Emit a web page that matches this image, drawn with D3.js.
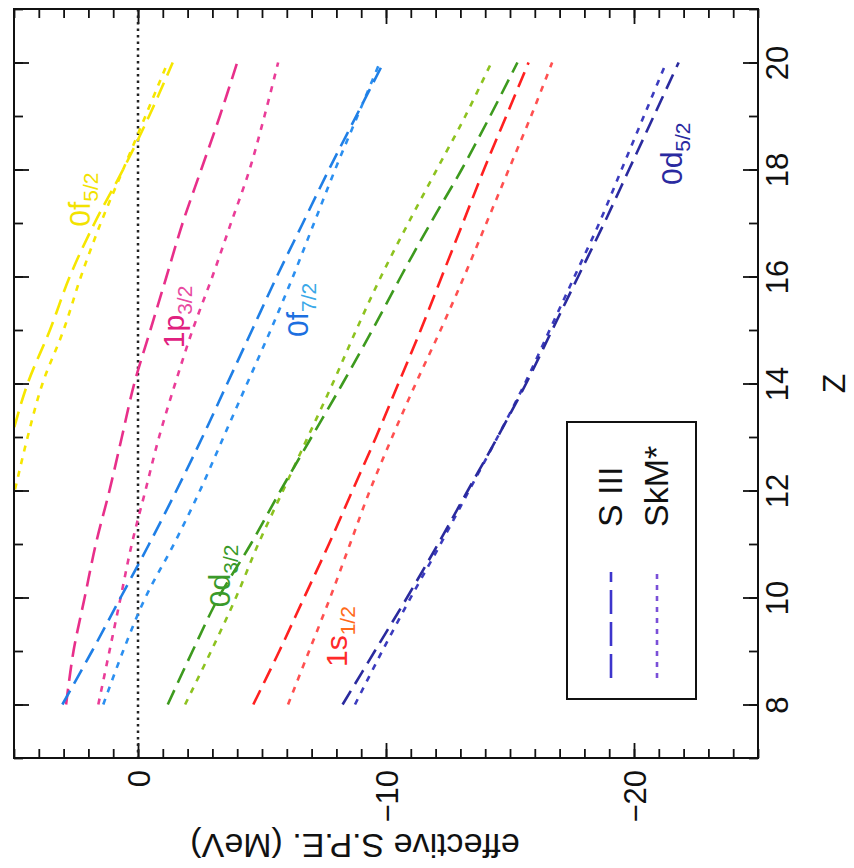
<!DOCTYPE html>
<html>
<head>
<meta charset="utf-8">
<script src="https://cdn.jsdelivr.net/npm/d3@7"></script>
<style>
body { margin: 0; background: #fff; }
text { font-family: "Liberation Sans", Arial, Helvetica, sans-serif; }
</style>
</head>
<body>
<div id="chart"></div>
<script>
// proton number Z of the isotones
var zValues = [8, 9, 10, 11, 12, 13, 14, 15, 16, 17, 18, 19, 20];

// effective single-particle energies (MeV), S III force
var sIII_0f52 = [8.1, 7.5, 6.9, 6.3, 5.7, 5.1, 4.45, 3.55, 2.75, 1.75, 0.6, -0.45, -1.4];
var sIII_1p32 = [2.9, 2.6, 2.15, 1.7, 1.15, 0.65, 0.15, -0.5, -1.15, -1.8, -2.55, -3.3, -4.0];
var sIII_0f72 = [3.05, 1.85, 0.7, -0.45, -1.55, -2.6, -3.6, -4.6, -5.6, -6.65, -7.7, -8.8, -9.9];
var sIII_0d32 = [-1.2, -2.2, -3.25, -4.55, -5.75, -7.0, -8.25, -9.45, -10.6, -11.8, -13.05, -14.2, -15.3];
var sIII_1s12 = [-4.65, -5.7, -6.7, -7.7, -8.65, -9.6, -10.5, -11.4, -12.25, -13.1, -13.95, -14.85, -15.75];
var sIII_0d52 = [-8.25, -9.55, -10.85, -12.1, -13.3, -14.5, -15.65, -16.7, -17.75, -18.8, -19.8, -20.8, -21.8];

// effective single-particle energies (MeV), SkM* force
var skm_0f52 = [7.0, 6.5, 6.0, 5.5, 4.97, 4.45, 3.85, 3.0, 2.3, 1.5, 0.6, -0.3, -1.2];
var skm_1p32 = [1.6, 1.15, 0.7, 0.25, -0.3, -0.85, -1.5, -2.2, -3.0, -3.75, -4.5, -5.1, -5.65];
var skm_0f72 = [1.4, 0.6, -0.3, -1.45, -2.5, -3.45, -4.4, -5.35, -6.25, -7.1, -7.95, -8.85, -9.75];
var skm_0d32 = [-1.9, -2.95, -3.95, -4.85, -5.85, -6.85, -7.85, -8.8, -9.8, -10.9, -12.05, -13.2, -14.25];
var skm_1s12 = [-6.05, -6.9, -7.75, -8.55, -9.35, -10.25, -11.2, -12.2, -13.15, -14.05, -14.95, -15.85, -16.7];
var skm_0d52 = [-8.75, -9.85, -11.0, -12.2, -13.35, -14.5, -15.6, -16.6, -17.6, -18.6, -19.5, -20.4, -21.3];

// orbitals: main part and subscript of the label
var orbitals = ["0f5/2", "1p3/2", "0f7/2", "0d3/2", "1s1/2", "0d5/2"];
var orbitalMain = ["0f", "1p", "0f", "0d", "1s", "0d"];
var orbitalSub = ["5/2", "3/2", "7/2", "3/2", "1/2", "5/2"];
var forces = ["S III", "SkM*"];

// tick values
var zMajor = [8, 10, 12, 14, 16, 18, 20];
var zMinor = d3.range(7, 22, 1);
var eMajor = [0, -10, -20];
var eMinor = d3.range(-25, 6, 1);

var sIIIvals = [sIII_0f52, sIII_1p32, sIII_0f72, sIII_0d32, sIII_1s12, sIII_0d52];
var skmVals = [skm_0f52, skm_1p32, skm_0f72, skm_0d32, skm_1s12, skm_0d52];

// styles
var colSIII = ["#f6e600", "#e82f8a", "#1f7fe6", "#3d9a1e", "#ff2020", "#2a2a9e"];
var colSkM = ["#f6e600", "#ea3d98", "#2b8ff0", "#8dc21f", "#ff5050", "#3b3bbe"];
var colMain = ["#f2e200", "#e0207f", "#1c6fe0", "#3a9a2a", "#ff2a2a", "#2a2aa0"];
var colSub = ["#f2e200", "#e84aa0", "#3aa8e8", "#3a9a2a", "#ff6a1a", "#2a2aa0"];
// label anchor (E, Z) of the start of the rotated text
var labelAt = [[1.94, 16.93], [-1.85, 14.66], [-6.85, 14.87], [-3.71, 9.82], [-8.43, 8.7], [-21.94, 17.71]];

var W = 854, H = 868;
var frame = {left: 14, right: 758, top: 9, bottom: 758};

var svg = d3.select("#chart").append("svg")
    .attr("width", W)
    .attr("height", H);

var eScale = d3.scaleLinear().domain([5, -25]).range([frame.left, frame.right]);
var zScale = d3.scaleLinear().domain([7, 21]).range([frame.bottom, frame.top]);

svg.append("defs").append("clipPath")
    .attr("id", "plot")
    .append("rect")
    .attr("x", frame.left)
    .attr("y", frame.top)
    .attr("width", frame.right - frame.left)
    .attr("height", frame.bottom - frame.top);

// ticks (all inside the frame)
function ticks(axis, tx, ty, vals, size) {
    var g = svg.append("g")
        .attr("transform", "translate(" + tx + "," + ty + ")")
        .call(axis.tickValues(vals).tickSize(-size).tickSizeOuter(0));
    g.select(".domain").remove();
    g.selectAll("line").attr("stroke", "#111").attr("stroke-width", 1.8);
    return g;
}

ticks(d3.axisBottom(eScale).tickFormat(""), 0, frame.bottom, eMinor, 9);
ticks(d3.axisTop(eScale).tickFormat(""), 0, frame.top, eMinor, 9);
ticks(d3.axisTop(eScale).tickFormat(""), 0, frame.top, eMajor, 15);
ticks(d3.axisLeft(zScale).tickFormat(""), frame.left, 0, zMinor, 9);
ticks(d3.axisRight(zScale).tickFormat(""), frame.right, 0, zMinor, 9);
ticks(d3.axisLeft(zScale).tickFormat(""), frame.left, 0, zMajor, 15);

var bottomAxis = ticks(d3.axisBottom(eScale).tickFormat(d3.format("d")), 0, frame.bottom, eMajor, 15);
bottomAxis.attr("font-size", 31);
bottomAxis.selectAll("text")
    .attr("x", 0).attr("y", 0).attr("dy", 0)
    .attr("fill", "#111")
    .attr("text-anchor", "end")
    .attr("transform", "translate(11,12) rotate(-90)");

var rightAxis = ticks(d3.axisRight(zScale).tickFormat(d3.format("d")), frame.right, 0, zMajor, 15);
rightAxis.attr("font-size", 31);
rightAxis.selectAll("text")
    .attr("x", 0).attr("y", 0).attr("dy", 0)
    .attr("fill", "#111")
    .attr("text-anchor", "middle")
    .attr("transform", "translate(30,0) rotate(-90)");

// axis titles
svg.append("text")
    .attr("transform", "translate(355,834) rotate(180)")
    .attr("text-anchor", "middle")
    .attr("font-size", 34)
    .attr("fill", "#111")
    .text("effective S.P.E. (MeV)");

svg.append("text")
    .attr("transform", "translate(845," + zScale(14) + ") rotate(-90)")
    .attr("text-anchor", "middle")
    .attr("font-size", 32)
    .attr("fill", "#111")
    .text("Z");

// zero line
svg.append("line")
    .attr("x1", eScale(0)).attr("x2", eScale(0))
    .attr("y1", frame.top).attr("y2", frame.bottom)
    .attr("stroke", "#222")
    .attr("stroke-width", 2.5)
    .attr("stroke-dasharray", "2.5,4");

// curves
var line = d3.line()
    .x(function(d) { return eScale(d.e); })
    .y(function(d) { return zScale(d.z); })
    .curve(d3.curveCatmullRom);

var curves = svg.append("g").attr("clip-path", "url(#plot)");

orbitals.forEach(function(o, i) {
    var a = zValues.map(function(z, k) { return {z: z, e: sIIIvals[i][k]}; });
    var b = zValues.map(function(z, k) { return {z: z, e: skmVals[i][k]}; });
    curves.append("path")
        .attr("d", line(b))
        .attr("fill", "none")
        .attr("stroke", colSkM[i])
        .attr("stroke-width", 2.6)
        .attr("stroke-dasharray", "6,7");
    curves.append("path")
        .attr("d", line(a))
        .attr("fill", "none")
        .attr("stroke", colSIII[i])
        .attr("stroke-width", 2.6)
        .attr("stroke-dasharray", "16,8");
});

// orbital labels
orbitals.forEach(function(o, i) {
    var t = svg.append("text")
        .attr("transform", "translate(" + eScale(labelAt[i][0]) + "," + zScale(labelAt[i][1]) + ") rotate(-90)")
        .attr("font-size", 30)
        .attr("fill", colMain[i])
        .text(orbitalMain[i]);
    t.append("tspan")
        .attr("font-size", 21)
        .attr("dy", 8)
        .attr("fill", colSub[i])
        .text(orbitalSub[i]);
});

// legend
var legend = svg.append("g");
legend.append("rect")
    .attr("x", 567).attr("y", 422)
    .attr("width", 129).attr("height", 277)
    .attr("fill", "#fff")
    .attr("stroke", "#111")
    .attr("stroke-width", 2);

var legCols = ["#3d35cc", "#7a4fd8"];
var legDash = ["24,8", "5,6"];
forces.forEach(function(f, i) {
    var x = 611 + i * 46;
    legend.append("line")
        .attr("x1", x).attr("x2", x)
        .attr("y1", 678).attr("y2", 572)
        .attr("stroke", legCols[i])
        .attr("stroke-width", 2.6)
        .attr("stroke-dasharray", legDash[i]);
    legend.append("text")
        .attr("transform", "translate(" + (x + 11) + ",527) rotate(-90)")
        .attr("font-size", 34)
        .attr("fill", "#111")
        .text(f);
});

// frame
svg.append("rect")
    .attr("x", frame.left).attr("y", frame.top)
    .attr("width", frame.right - frame.left)
    .attr("height", frame.bottom - frame.top)
    .attr("fill", "none")
    .attr("stroke", "#111")
    .attr("stroke-width", 2);
</script>
</body>
</html>
